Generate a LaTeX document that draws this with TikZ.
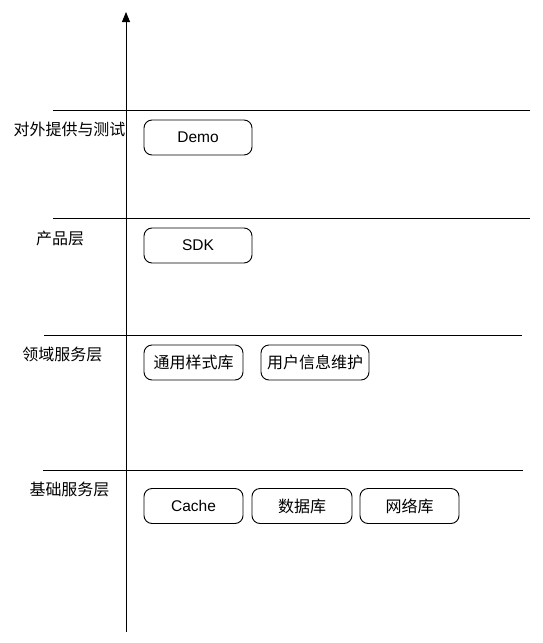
\documentclass[tikz,border=0pt]{standalone}
\usepackage{fontspec}
\setmainfont{Liberation Sans}
\newfontfamily\cjk{Noto Sans CJK SC}
\usetikzlibrary{arrows.meta}

\begin{document}
\begin{tikzpicture}[x=1pt,y=-1pt,line width=0.9pt,font=\fontsize{15.5}{17}\selectfont,
  mod/.style n args={1}{draw,rounded corners=8pt,minimum width=#1pt,minimum height=35pt,inner sep=2pt},
  cn/.style={font=\cjk\fontsize{16}{18}\selectfont},
  lyr/.style={cn,inner sep=0pt}]
\useasboundingbox (0,0) rectangle (542,643);
% axis
\coordinate (axisbot) at (126,632);
\coordinate (axistop) at (126,12);
\draw[-{Triangle[length=10pt,width=8pt]}] (axisbot) -- (axistop);
% layer separators
\foreach \y/\a/\b in %
{110/53/530,218/53/530,335/44/522,470/43/523} {
   \coordinate (sepL\y) at (\a,\y);
   \coordinate (sepR\y) at (\b,\y);
   \draw (sepL\y) -- (sepR\y);
}
% layer names
\node[lyr] (ltest) at (69.5,129) {对外提供与测试};
\node[lyr] (lprod) at (60,238) {产品层};
\node[lyr] (ldomain) at (62.5,354) {领域服务层};
\node[lyr] (lbase) at (69.5,489) {基础服务层};
% modules
\node[mod=108] (demo) at (198,137.5) {Demo};
\node[mod=108] (sdk) at (198,245.5) {SDK};
\node[mod=99,cn] (style) at (193.5,362.5) {通用样式库};
\node[mod=108,cn] (user) at (315,362.5) {用户信息维护};
\node[mod=99] (cache) at (193.5,506) {Cache};
\node[mod=100,cn] (db) at (302,506) {数据库};
\node[mod=99,cn] (net) at (409.5,506) {网络库};
\end{tikzpicture}
\end{document}
